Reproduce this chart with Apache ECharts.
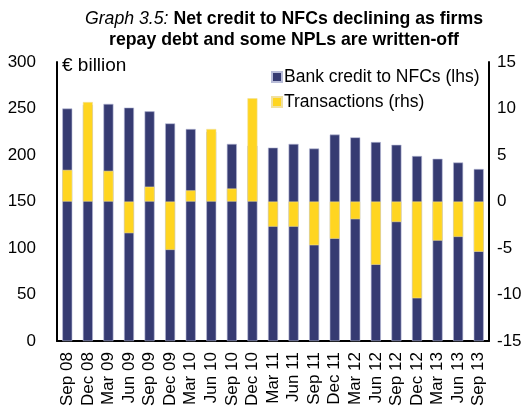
<!DOCTYPE html>
<html>
<head>
<meta charset="utf-8">
<script src="https://cdn.jsdelivr.net/npm/echarts@6/dist/echarts.min.js"></script>
<style>
html,body{margin:0;padding:0;background:#fff;}
#chart{width:532px;height:409px;}
</style>
</head>
<body>
<div id="chart"></div>
<script>
const categories = ['Sep 08','Dec 08','Mar 09','Jun 09','Sep 09','Dec 09','Mar 10','Jun 10','Sep 10','Dec 10','Mar 11','Jun 11','Sep 11','Dec 11','Mar 12','Jun 12','Sep 12','Dec 12','Mar 13','Jun 13','Sep 13'];
const bankCredit = [250,254,255,251,247,234,228,225,212,210,208,212,207,222,219,214,211,199,196,192,185];
const transactions = [3.4,10.7,3.3,-3.4,1.6,-5.2,1.2,7.8,1.4,11.1,-2.7,-2.7,-4.7,-4.0,-1.9,-6.8,-2.2,-10.4,-4.2,-3.8,-5.4];
const lhsTicks = [0,300,50];
const rhsTicks = [-15,15,5];

const FONT = 'Liberation Sans, Arial, sans-serif';
const chart = echarts.init(document.getElementById('chart'));
chart.setOption({
  animation:false,
  backgroundColor:'#fff',
  title:{
    text:'{i|Graph 3.5:} {b|Net credit to NFCs declining as firms}\n{b|repay debt and some NPLs are written-off}',
    left:279, textAlign:'center', top:4,
    textStyle:{
      fontFamily:FONT, fontSize:17.7, color:'#000', lineHeight:21,
      rich:{
        i:{fontStyle:'italic',fontWeight:'normal',fontFamily:FONT,fontSize:17.7,color:'#000',lineHeight:21},
        b:{fontWeight:'bold',fontFamily:FONT,fontSize:17.7,color:'#000',lineHeight:21}
      }
    }
  },
  graphic:[{type:'text',left:62,top:56,style:{text:'€ billion',font:'19px '+FONT,fill:'#000'}}],
  legend:{
    orient:'vertical', left:266, top:63, itemWidth:10, itemHeight:10, itemGap:7,
    icon:'rect',
    textStyle:{fontFamily:FONT,fontSize:17.5,color:'#000',padding:[0,0,0,-3]},
    data:['Bank credit to NFCs (lhs)','Transactions (rhs)']
  },
  grid:{left:57,right:43,top:62,bottom:62,containLabel:false},
  xAxis:{
    type:'category', data:categories,
    axisLine:{lineStyle:{color:'#000',width:2}},
    axisTick:{show:false},
    axisLabel:{rotate:90,interval:0,fontFamily:FONT,fontSize:17,color:'#000',margin:11}
  },
  yAxis:[
    {type:'value',min:lhsTicks[0],max:lhsTicks[1],interval:lhsTicks[2],position:'left',
     axisLine:{show:true,lineStyle:{color:'#000',width:2}},axisTick:{show:false},splitLine:{show:false},
     axisLabel:{fontFamily:FONT,fontSize:17,color:'#000',margin:21}},
    {type:'value',min:rhsTicks[0],max:rhsTicks[1],interval:rhsTicks[2],position:'right',
     axisLine:{show:true,lineStyle:{color:'#000',width:2}},axisTick:{show:false},splitLine:{show:false},
     axisLabel:{fontFamily:FONT,fontSize:17,color:'#000',margin:8,align:'left'}}
  ],
  series:[
    {name:'Bank credit to NFCs (lhs)',type:'bar',yAxisIndex:0,data:bankCredit,barWidth:10,barGap:'-100%',
     itemStyle:{color:'#363B72',borderColor:'#B8BCD8',borderWidth:0.6}},
    {name:'Transactions (rhs)',type:'bar',yAxisIndex:1,data:transactions,barWidth:10,barGap:'-100%',
     itemStyle:{color:'#FFD520',borderColor:'#F0E0A0',borderWidth:0.6}}
  ]
});
</script>
</body>
</html>
